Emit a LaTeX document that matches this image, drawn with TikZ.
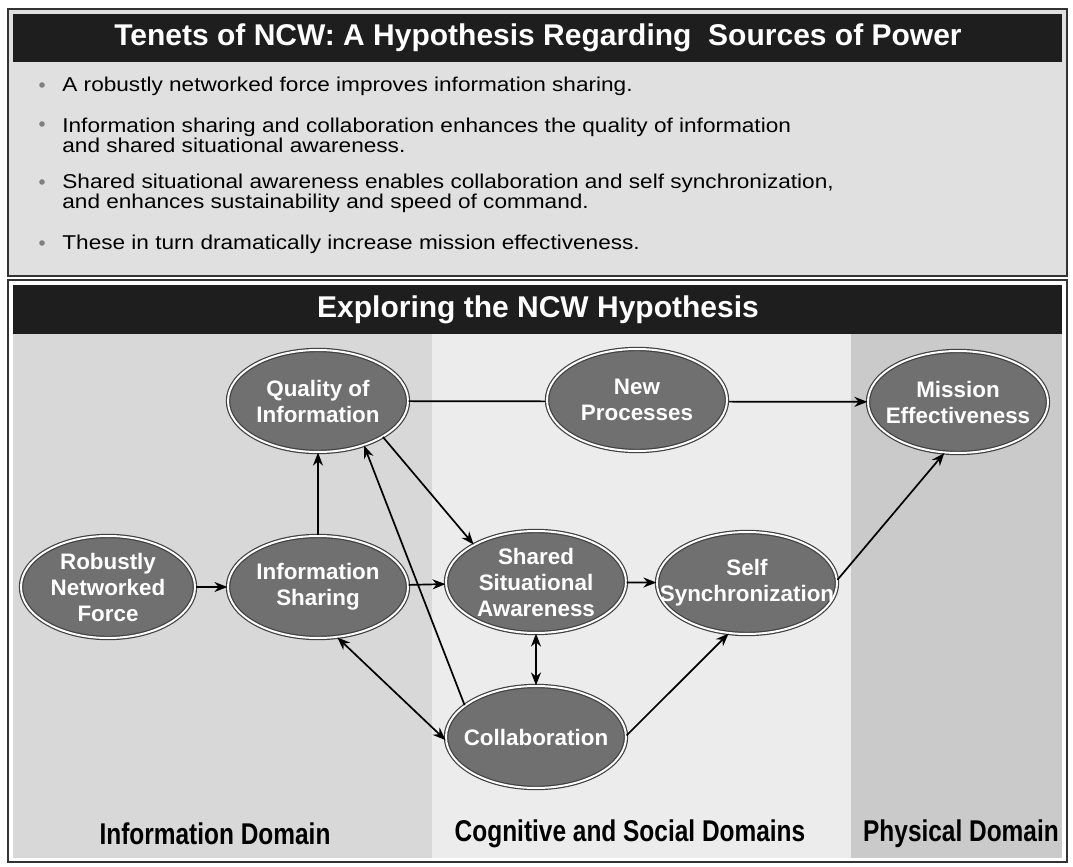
\documentclass[tikz,border=0pt]{standalone}
\usepackage{fontspec}
\setmainfont{Liberation Sans}
\newfontfamily\narrowfont[FakeStretch=0.815]{Liberation Sans}
\newfontfamily\widefont[FakeStretch=1.13]{Liberation Sans}
\usetikzlibrary{positioning,shapes.geometric,arrows.meta}
\definecolor{barblack}{RGB}{30,30,30}
\definecolor{panelgray}{RGB}{224,224,224}
\definecolor{infogray}{RGB}{216,216,216}
\definecolor{coggray}{RGB}{236,236,236}
\definecolor{physgray}{RGB}{202,202,202}
\definecolor{bubblegray}{RGB}{112,112,112}

\begin{document}
\begin{tikzpicture}[x=0.5pt,y=-0.5pt,
  bubble/.style={ellipse,draw=black!75,line width=0.6pt,double=white,double distance=1pt,
                 fill=bubblegray,minimum width=90pt,minimum height=51pt,inner sep=-12pt,
                 align=center,text=white,font=\fontsize{11.2}{13}\selectfont\bfseries},
  arr/.style={-{Stealth[length=6.5pt,width=5pt]},line width=0.85pt},
  dbl/.style={{Stealth[length=6.5pt,width=5pt]}-{Stealth[length=6.5pt,width=5pt]},line width=0.85pt},
  bartitle/.style={text=white,font=\fontsize{15}{17}\selectfont\bfseries},
  tenet/.style={anchor=west,align=left,inner sep=0pt,font=\widefont\fontsize{10}{10}\selectfont},
  dot/.style={circle,fill=black!50,inner sep=0pt,minimum size=2.8pt},
  domlabel/.style={font=\narrowfont\fontsize{15}{17}\selectfont\bfseries}]
  \useasboundingbox[fill=white] (0,0) rectangle (1073,867);

  % upper panel: the tenets
  \draw[black!80,line width=0.8pt,fill=panelgray] (8,9) rectangle (1067,276);
  \fill[barblack] (13,14) rectangle (1062,62);
  \node[bartitle] (tenets) at (538,38) {Tenets of NCW: A Hypothesis Regarding\ \ Sources of Power};
  \node[dot] (d1) at (42,85) {};
  \node[dot] (d2) at (42,124) {};
  \node[dot] (d3) at (42,182) {};
  \node[dot] (d4) at (42,243) {};
  \node[tenet] (t1) at (62,86) {A robustly networked force improves information sharing.};
  \node[tenet] (t2) at (62,135) {Information sharing and collaboration enhances the quality of information\\ and shared situational awareness.};
  \node[tenet] (t3) at (62,193) {Shared situational awareness enables collaboration and self synchronization,\\ and enhances sustainability and speed of command.};
  \node[tenet] (t4) at (62,244) {These in turn dramatically increase mission effectiveness.};

  % lower panel: the domains
  \draw[black!80,line width=0.8pt] (8,280) rectangle (1067,862);
  \fill[infogray] (13,285) rectangle (432,858);
  \fill[coggray] (432,285) rectangle (851,858);
  \fill[physgray] (851,285) rectangle (1062,858);
  \fill[barblack] (13,285) rectangle (1062,334);
  \node[bartitle] (explore) at (538,310) {Exploring the NCW Hypothesis};
  \node[domlabel] (infodom) at (215,834) {Information Domain};
  \node[domlabel] (cogdom) at (630,834) {Cognitive and Social Domains};
  \node[domlabel] (physdom) at (961,834) {Physical Domain};

  \node[bubble] (qoi) at (318,401) {Quality of\\ Information};
  \node[bubble] (mission) at (958,402) {Mission\\ Effectiveness};
  \node[bubble,minimum width=87pt] (rnf) at (108,587) {Robustly\\ Networked\\ Force};
  \node[bubble] (info) at (318,587) {Information\\ Sharing};
  \node[bubble] (ssa) at (536,582) {Shared\\ Situational\\ Awareness};
  \node[bubble] (sync) at (747,583) {Self\\ Synchronization};
  \node[bubble] (collab) at (536,737) {Collaboration};

  \draw[arr] (qoi) -- (mission);
  \draw[arr] (rnf) -- (info);
  \draw[arr] (info) -- (qoi);
  \draw[arr] (info) -- (ssa);
  \draw[arr] (ssa) -- (sync);
  \draw[arr] (qoi.-29) -- (ssa.149);
  \draw[arr] (collab.156) -- (qoi.-44);
  \draw[dbl] (info.-69) -- (collab.182);
  \draw[dbl] (ssa) -- (collab);
  \draw[arr] (collab.1) -- (sync.-110);
  \draw[arr] (sync.2) -- (mission.-105);

  % drawn last, it hides the line from quality to mission
  \node[bubble] (newproc) at (637,400) {New\\ Processes};
\end{tikzpicture}
\end{document}
